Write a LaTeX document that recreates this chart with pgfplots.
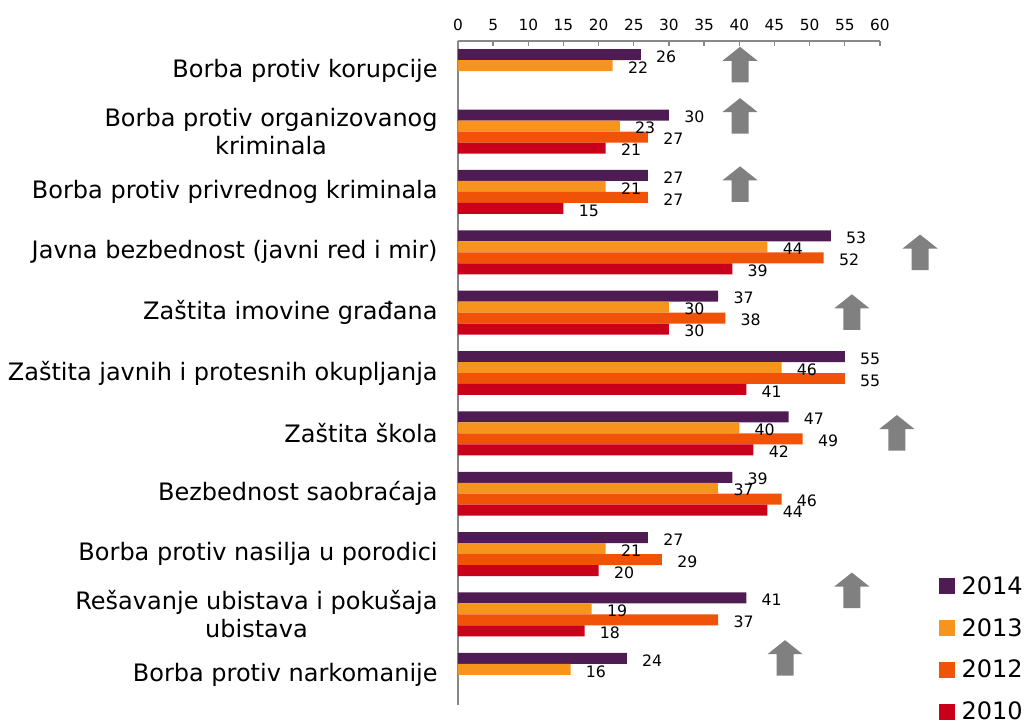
\documentclass[border=0pt]{standalone}
\usepackage{pgfplots}
\pgfplotsset{compat=1.18}
\usepackage{pgfplotstable}
\usepackage{fontspec}
\setmainfont{DejaVu Sans}

\definecolor{c2014}{RGB}{78,28,82}
\definecolor{c2013}{RGB}{247,148,30}
\definecolor{c2012}{RGB}{240,82,8}
\definecolor{c2010}{RGB}{200,0,26}
\definecolor{arrowgray}{RGB}{128,128,128}
\definecolor{axgray}{RGB}{136,136,136}

\pgfdeclareplotmark{uparrow}{%
  \pgfpathmoveto{\pgfpoint{0pt}{13.3pt}}%
  \pgfpathlineto{\pgfpoint{13.2pt}{2.8pt}}%
  \pgfpathlineto{\pgfpoint{6.4pt}{2.8pt}}%
  \pgfpathlineto{\pgfpoint{6.4pt}{-13.3pt}}%
  \pgfpathlineto{\pgfpoint{-6.4pt}{-13.3pt}}%
  \pgfpathlineto{\pgfpoint{-6.4pt}{2.8pt}}%
  \pgfpathlineto{\pgfpoint{-13.2pt}{2.8pt}}%
  \pgfpathclose
  \pgfusepathqfill}

\pgfplotstableread{
y a b c d
10 26 22 nan nan
9 30 23 27 21
8 27 21 27 15
7 53 44 52 39
6 37 30 38 30
5 55 46 55 41
4 47 40 49 42
3 39 37 46 44
2 27 21 29 20
1 41 19 37 18
0 24 16 nan nan
}\datatable

\pgfplotstableread{
x y
40.1 10.11
40.1 9.26
40.1 8.13
65.7 7.00
56.0 6.01
62.4 4.01
56.0 1.40
46.5 0.28
}\arrowtable

\begin{document}
\begin{tikzpicture}
\useasboundingbox (-343.5pt,30.75pt) rectangle (426.75pt,-510.75pt);
\begin{axis}[
  at={(0pt,0pt)}, anchor=north west,
  scale only axis,
  width=316.5pt, height=498pt,
  xmin=0, xmax=60, ymin=-0.5, ymax=10.5,
  clip=false,
  axis x line*=top, axis y line*=left,
  axis line style={axgray, line width=1.3pt},
  xtick distance=5,
  ytick={0,...,10},
  yticklabels={Borba protiv narkomanije,
    {Rešavanje ubistava i pokušaja\\ubistava},
    Borba protiv nasilja u porodici,
    Bezbednost saobraćaja,
    Zaštita škola,
    Zaštita javnih i protesnih okupljanja,
    Zaštita imovine građana,
    Javna bezbednost (javni red i mir),
    Borba protiv privrednog kriminala,
    {Borba protiv organizovanog\\kriminala},
    Borba protiv korupcije},
  tick align=inside,
  major tick length=3.5pt,
  xtick style={axgray, line width=1pt},
  ytick style={draw=none},
  xticklabel style={font=\fontsize{11.5}{13}\selectfont, yshift=4pt},
  yticklabel style={font=\fontsize{18}{21}\selectfont, align=center, xshift=-8.3pt},
  /pgf/number format/assume math mode=true,
  xbar, bar width=0.182,
  point meta=x,
  nodes near coords,
  nodes near coords style={anchor=west, xshift=8pt, yshift=-1.5pt, font=\fontsize{11.8}{14}\selectfont, text=black},
  legend cell align=left,
  legend style={draw=none, fill=none, at={(1.139,0.198)}, anchor=north west,
    font=\fontsize{18}{20}\selectfont, row sep=12.5pt, inner sep=0pt},
  legend image code/.code={\fill[#1] (0pt,-6pt) rectangle (12pt,6pt); \path (15pt,0pt);},
]
\addplot[fill=c2014, draw=none, bar shift=0.273] table[x=a, y=y] {\datatable};
\addplot[fill=c2013, draw=none, bar shift=0.091] table[x=b, y=y] {\datatable};
\addplot[fill=c2012, draw=none, bar shift=-0.091] table[x=c, y=y] {\datatable};
\addplot[fill=c2010, draw=none, bar shift=-0.273] table[x=d, y=y] {\datatable};
\legend{2014,2013,2012,2010}
\end{axis}
\begin{axis}[
  at={(0pt,0pt)}, anchor=north west,
  scale only axis,
  width=316.5pt, height=498pt,
  xmin=0, xmax=60, ymin=-0.5, ymax=10.5,
  clip=false, hide axis,
]
\addplot[only marks, mark=uparrow, mark options={fill=arrowgray, draw=none}]
  table[x=x, y=y] {\arrowtable};
\end{axis}
\end{tikzpicture}
\end{document}
